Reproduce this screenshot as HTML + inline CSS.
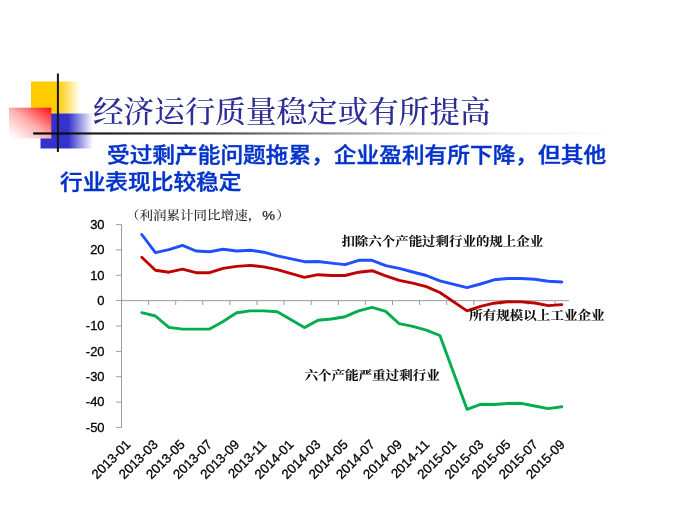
<!DOCTYPE html>
<html lang="zh-CN">
<head>
<meta charset="utf-8">
<title>经济运行质量稳定或有所提高</title>
<style>
html,body{margin:0;padding:0;background:#fff;}
body{width:680px;height:510px;overflow:hidden;position:relative;}
svg{position:absolute;left:0;top:0;display:block;will-change:transform;opacity:0.999;}
.title{font-family:"Liberation Serif","Noto Serif CJK SC",serif;font-weight:500;fill:#2d2d96;}
.sub{font-family:"Liberation Sans","Noto Sans CJK SC",sans-serif;font-weight:500;fill:#0033cc;stroke:#0033cc;stroke-width:0.45px;}
.ax{font-family:"Liberation Sans","Noto Sans CJK SC",sans-serif;fill:#000;stroke:#000;stroke-width:0.3px;}
.ann{font-family:"Liberation Serif","Noto Serif CJK SC",serif;font-weight:bold;fill:#0c0c0c;stroke:#0c0c0c;stroke-width:0.1px;}
.unit{font-family:"Liberation Serif","Noto Serif CJK SC",serif;font-weight:500;fill:#262626;}
.pct{font-family:"Liberation Sans",sans-serif;font-weight:400;stroke:#262626;stroke-width:0.25px;}
</style>
</head>
<body>
<svg width="680" height="510" viewBox="0 0 680 510">
<defs>
<linearGradient id="gy" x1="0" y1="0" x2="1" y2="0"><stop offset="0" stop-color="#ffcc00"/><stop offset="0.54" stop-color="#ffcc00"/><stop offset="1" stop-color="#ffffff"/></linearGradient>
<linearGradient id="gb" x1="0" y1="0" x2="1" y2="0"><stop offset="0" stop-color="#3333cc"/><stop offset="0.53" stop-color="#3333cc"/><stop offset="1" stop-color="#ffffff"/></linearGradient>
<linearGradient id="gr" x1="1" y1="0" x2="0" y2="1"><stop offset="0" stop-color="#ff1010"/><stop offset="0.5" stop-color="#ffb0b0"/><stop offset="0.95" stop-color="#ffffff"/><stop offset="1" stop-color="#ffffff"/></linearGradient>
<linearGradient id="gl" x1="0" y1="0" x2="1" y2="0"><stop offset="0" stop-color="#000000"/><stop offset="0.3" stop-color="#474747"/><stop offset="0.5" stop-color="#989898"/><stop offset="0.62" stop-color="#c2c2c2"/><stop offset="0.8" stop-color="#ececec"/><stop offset="1" stop-color="#ffffff"/></linearGradient>
</defs>
<!-- decoration -->
<rect x="31" y="81.5" width="49.5" height="32" fill="url(#gy)"/>
<rect x="40.5" y="113.5" width="52.5" height="35" fill="url(#gb)"/>
<rect x="9" y="107.7" width="42.3" height="30.8" fill="url(#gr)"/>
<rect x="56.9" y="73.5" width="2" height="78.5" fill="#161616"/>
<rect x="33.2" y="132.4" width="592" height="2.15" fill="url(#gl)"/>
<text class="title" transform="translate(93,121.5) scale(1,0.955)" font-size="30.6">经济运行质量稳定或有所提高</text>
<text class="sub" transform="translate(107,162.1) scale(1,0.92)" font-size="22.7">受过剩产能问题拖累，企业盈利有所下降，但其他</text>
<text class="sub" transform="translate(60,189.2) scale(1,0.92)" font-size="22.7">行业表现比较稳定</text>
<g stroke="#969696" stroke-width="0.95" fill="none">
<line x1="121.5" y1="224.6" x2="121.5" y2="427.4"/>
<line x1="121.5" y1="300.65" x2="569.0" y2="300.65"/>
<line x1="116.1" y1="224.6" x2="121.5" y2="224.6"/>
<line x1="116.1" y1="249.9" x2="121.5" y2="249.9"/>
<line x1="116.1" y1="275.3" x2="121.5" y2="275.3"/>
<line x1="116.1" y1="300.6" x2="121.5" y2="300.6"/>
<line x1="116.1" y1="326.0" x2="121.5" y2="326.0"/>
<line x1="116.1" y1="351.4" x2="121.5" y2="351.4"/>
<line x1="116.1" y1="376.7" x2="121.5" y2="376.7"/>
<line x1="116.1" y1="402.1" x2="121.5" y2="402.1"/>
<line x1="116.1" y1="427.4" x2="121.5" y2="427.4"/>
<line x1="148.6" y1="300.65" x2="148.6" y2="304.95"/>
<line x1="175.7" y1="300.65" x2="175.7" y2="304.95"/>
<line x1="202.8" y1="300.65" x2="202.8" y2="304.95"/>
<line x1="229.9" y1="300.65" x2="229.9" y2="304.95"/>
<line x1="257.0" y1="300.65" x2="257.0" y2="304.95"/>
<line x1="284.1" y1="300.65" x2="284.1" y2="304.95"/>
<line x1="311.2" y1="300.65" x2="311.2" y2="304.95"/>
<line x1="338.3" y1="300.65" x2="338.3" y2="304.95"/>
<line x1="365.4" y1="300.65" x2="365.4" y2="304.95"/>
<line x1="392.5" y1="300.65" x2="392.5" y2="304.95"/>
<line x1="419.6" y1="300.65" x2="419.6" y2="304.95"/>
<line x1="446.7" y1="300.65" x2="446.7" y2="304.95"/>
<line x1="473.8" y1="300.65" x2="473.8" y2="304.95"/>
<line x1="500.9" y1="300.65" x2="500.9" y2="304.95"/>
<line x1="528.0" y1="300.65" x2="528.0" y2="304.95"/>
<line x1="555.1" y1="300.65" x2="555.1" y2="304.95"/>
</g>
<text class="ax" transform="translate(104.6,228.8) scale(0.985,1.0)" font-size="13.2" text-anchor="end">30</text>
<text class="ax" transform="translate(104.6,254.2) scale(0.985,1.0)" font-size="13.2" text-anchor="end">20</text>
<text class="ax" transform="translate(104.6,279.5) scale(0.985,1.0)" font-size="13.2" text-anchor="end">10</text>
<text class="ax" transform="translate(104.6,304.9) scale(0.985,1.0)" font-size="13.2" text-anchor="end">0</text>
<text class="ax" transform="translate(104.6,330.3) scale(0.985,1.0)" font-size="13.2" text-anchor="end">-10</text>
<text class="ax" transform="translate(104.6,355.6) scale(0.985,1.0)" font-size="13.2" text-anchor="end">-20</text>
<text class="ax" transform="translate(104.6,381.0) scale(0.985,1.0)" font-size="13.2" text-anchor="end">-30</text>
<text class="ax" transform="translate(104.6,406.3) scale(0.985,1.0)" font-size="13.2" text-anchor="end">-40</text>
<text class="ax" transform="translate(104.6,431.7) scale(0.985,1.0)" font-size="13.2" text-anchor="end">-50</text>
<text class="ax" transform="translate(131.5,445.4) rotate(-45)" font-size="13.25" text-anchor="end">2013-01</text>
<text class="ax" transform="translate(158.6,445.4) rotate(-45)" font-size="13.25" text-anchor="end">2013-03</text>
<text class="ax" transform="translate(185.8,445.4) rotate(-45)" font-size="13.25" text-anchor="end">2013-05</text>
<text class="ax" transform="translate(212.9,445.4) rotate(-45)" font-size="13.25" text-anchor="end">2013-07</text>
<text class="ax" transform="translate(240.1,445.4) rotate(-45)" font-size="13.25" text-anchor="end">2013-09</text>
<text class="ax" transform="translate(267.2,445.4) rotate(-45)" font-size="13.25" text-anchor="end">2013-11</text>
<text class="ax" transform="translate(294.4,445.4) rotate(-45)" font-size="13.25" text-anchor="end">2014-01</text>
<text class="ax" transform="translate(321.5,445.4) rotate(-45)" font-size="13.25" text-anchor="end">2014-03</text>
<text class="ax" transform="translate(348.6,445.4) rotate(-45)" font-size="13.25" text-anchor="end">2014-05</text>
<text class="ax" transform="translate(375.8,445.4) rotate(-45)" font-size="13.25" text-anchor="end">2014-07</text>
<text class="ax" transform="translate(402.9,445.4) rotate(-45)" font-size="13.25" text-anchor="end">2014-09</text>
<text class="ax" transform="translate(430.1,445.4) rotate(-45)" font-size="13.25" text-anchor="end">2014-11</text>
<text class="ax" transform="translate(457.2,445.4) rotate(-45)" font-size="13.25" text-anchor="end">2015-01</text>
<text class="ax" transform="translate(484.4,445.4) rotate(-45)" font-size="13.25" text-anchor="end">2015-03</text>
<text class="ax" transform="translate(511.5,445.4) rotate(-45)" font-size="13.25" text-anchor="end">2015-05</text>
<text class="ax" transform="translate(538.7,445.4) rotate(-45)" font-size="13.25" text-anchor="end">2015-07</text>
<text class="ax" transform="translate(565.8,445.4) rotate(-45)" font-size="13.25" text-anchor="end">2015-09</text>
<polyline points="141.8,234.5 155.4,252.7 168.9,249.7 182.5,245.4 196.0,251.0 209.6,251.7 223.1,249.2 236.7,251.0 250.2,250.2 263.8,252.2 277.3,255.8 304.4,261.7 318.0,261.5 331.5,263.1 345.1,264.6 358.6,260.3 372.1,260.3 385.7,265.6 399.2,268.4 412.8,272.0 426.3,275.5 439.9,280.8 467.0,287.6 480.5,284.0 494.1,279.8 507.6,278.5 521.2,278.5 534.7,279.3 548.3,281.3 561.8,282.0" fill="none" stroke="#1f4fff" stroke-width="2.9" stroke-linejoin="round" stroke-linecap="round"/>
<polyline points="141.8,257.3 155.4,270.2 168.9,272.2 182.5,269.2 196.0,272.7 209.6,272.7 223.1,268.4 236.7,266.4 250.2,265.4 263.8,266.9 277.3,269.7 304.4,277.3 318.0,274.7 331.5,275.5 345.1,275.5 358.6,272.2 372.1,270.7 385.7,275.8 399.2,280.3 412.8,283.1 426.3,286.6 439.9,292.5 467.0,310.9 480.5,306.4 494.1,303.2 507.6,301.7 521.2,301.9 534.7,303.0 548.3,305.6 561.8,304.6" fill="none" stroke="#c00000" stroke-width="2.9" stroke-linejoin="round" stroke-linecap="round"/>
<polyline points="141.8,312.7 155.4,316.0 168.9,327.4 182.5,329.1 196.0,329.1 209.6,329.1 223.1,321.5 236.7,312.7 250.2,310.9 263.8,310.9 277.3,311.7 304.4,327.6 318.0,320.3 331.5,319.0 345.1,316.7 358.6,310.9 372.1,307.4 385.7,311.4 399.2,323.7 412.8,326.4 426.3,330.1 439.9,335.5 467.0,409.3 480.5,404.3 494.1,404.5 507.6,403.5 521.2,403.3 534.7,406.0 548.3,408.6 561.8,406.8" fill="none" stroke="#00ad4e" stroke-width="2.9" stroke-linejoin="round" stroke-linecap="round"/>
<text class="unit" transform="translate(126.0,219.9) scale(1,0.9)" font-size="13.53">（利润累计同比增速，<tspan class="pct" font-size="14.4" dx="1.2">%</tspan><tspan dx="1.2">）</tspan></text>
<text class="ann" transform="translate(341.4,245.9) scale(1,0.9)" font-size="13.47">扣除六个产能过剩行业的规上企业</text>
<text class="ann" transform="translate(469.2,319.9) scale(1,0.9)" font-size="13.54">所有规模以上工业企业</text>
<text class="ann" transform="translate(304.4,379.6) scale(1,0.9)" font-size="13.56">六个产能严重过剩行业</text>
</svg>
</body>
</html>
